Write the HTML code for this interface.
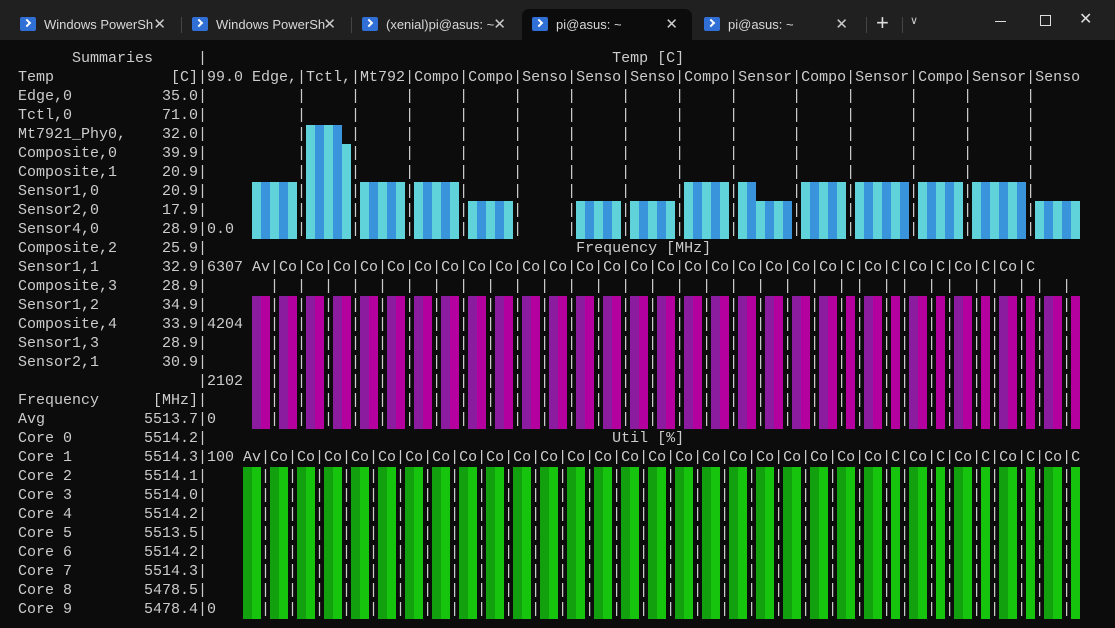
<!DOCTYPE html>
<html><head><meta charset="utf-8"><style>
body{margin:0;width:1115px;height:628px;background:#0c0c0c;overflow:hidden;position:relative;font-family:"Liberation Sans",sans-serif}
#tabs{position:absolute;left:0;top:0;width:1115px;height:40px;background:#202020}
.tab{position:absolute;top:9px;height:31px;color:#d8d8d8;font-size:13px;line-height:31px}
.tab .ic{position:absolute;left:10px;top:8px;width:16px;height:14px;background:#2f6fd6;border-radius:2px}
.tab .ic:after{content:"";position:absolute;left:4px;top:3px;width:4px;height:4px;border-right:2px solid #fff;border-bottom:2px solid #fff;transform:rotate(-45deg)}
.tab .t{position:absolute;left:34px;top:0;white-space:nowrap;width:112px;overflow:hidden}
.tab .x{position:absolute;right:14px;top:0;font-size:15px;color:#ccc}
.sep{position:absolute;top:17px;width:1px;height:16px;background:#444}
#term{position:absolute;left:18px;top:48.5px;margin:0;font-family:"Liberation Mono",monospace;font-size:15px;line-height:19px;color:#cccccc;white-space:pre;z-index:2}
.b{position:absolute;z-index:1}
</style></head><body>
<div id="tabs">
<div class="tab" style="left:10px;width:170px"><div class="ic"></div><span class="t">Windows PowerSh</span><span class="x">✕</span></div>
<div class="sep" style="left:181px"></div>
<div class="tab" style="left:182px;width:168px"><div class="ic"></div><span class="t">Windows PowerSh</span><span class="x">✕</span></div>
<div class="sep" style="left:351px"></div>
<div class="tab" style="left:352px;width:168px"><div class="ic"></div><span class="t">(xenial)pi@asus: ~</span><span class="x">✕</span></div>
<div class="tab" style="left:522px;width:170px;background:#0c0c0c;border-radius:7px 7px 0 0"><div class="ic"></div><span class="t">pi@asus: ~</span><span class="x">✕</span></div>
<div class="tab" style="left:694px;width:168px"><div class="ic"></div><span class="t">pi@asus: ~</span><span class="x">✕</span></div>
<div class="sep" style="left:866px"></div>
<div style="position:absolute;left:876px;top:10px;color:#ddd;font-size:22px">+</div>
<div class="sep" style="left:902px"></div>
<div style="position:absolute;left:910px;top:14px;color:#ccc;font-size:11px">∨</div>
<div style="position:absolute;left:995px;top:21px;width:11px;height:1px;background:#ddd"></div>
<div style="position:absolute;left:1040px;top:15px;width:9px;height:9px;border:1px solid #ddd"></div>
<div style="position:absolute;left:1079px;top:9px;color:#ddd;font-size:16px">✕</div>
</div>
<pre id="term">      Summaries     |                                             Temp [C]
Temp             [C]|99.0 Edge,|Tctl,|Mt792|Compo|Compo|Senso|Senso|Senso|Compo|Sensor|Compo|Sensor|Compo|Sensor|Senso
Edge,0          35.0|          |     |     |     |     |     |     |     |     |      |     |      |     |      |
Tctl,0          71.0|          |     |     |     |     |     |     |     |     |      |     |      |     |      |
Mt7921_Phy0,    32.0|          |     |     |     |     |     |     |     |     |      |     |      |     |      |
Composite,0     39.9|          |     |     |     |     |     |     |     |     |      |     |      |     |      |
Composite,1     20.9|          |     |     |     |     |     |     |     |     |      |     |      |     |      |
Sensor1,0       20.9|          |     |     |     |     |     |     |     |     |      |     |      |     |      |
Sensor2,0       17.9|          |     |     |     |     |     |     |     |     |      |     |      |     |      |
Sensor4,0       28.9|0.0       |     |     |     |     |     |     |     |     |      |     |      |     |      |
Composite,2     25.9|                                         Frequency [MHz]
Sensor1,1       32.9|6307 Av|Co|Co|Co|Co|Co|Co|Co|Co|Co|Co|Co|Co|Co|Co|Co|Co|Co|Co|Co|Co|Co|C|Co|C|Co|C|Co|C|Co|C
Composite,3     28.9|       |  |  |  |  |  |  |  |  |  |  |  |  |  |  |  |  |  |  |  |  |  | |  | |  | |  | |  | |  | 
Sensor1,2       34.9|       |  |  |  |  |  |  |  |  |  |  |  |  |  |  |  |  |  |  |  |  |  | |  | |  | |  | |  | |  | 
Composite,4     33.9|4204   |  |  |  |  |  |  |  |  |  |  |  |  |  |  |  |  |  |  |  |  |  | |  | |  | |  | |  | |  | 
Sensor1,3       28.9|       |  |  |  |  |  |  |  |  |  |  |  |  |  |  |  |  |  |  |  |  |  | |  | |  | |  | |  | |  | 
Sensor2,1       30.9|       |  |  |  |  |  |  |  |  |  |  |  |  |  |  |  |  |  |  |  |  |  | |  | |  | |  | |  | |  | 
                    |2102   |  |  |  |  |  |  |  |  |  |  |  |  |  |  |  |  |  |  |  |  |  | |  | |  | |  | |  | |  | 
Frequency      [MHz]|       |  |  |  |  |  |  |  |  |  |  |  |  |  |  |  |  |  |  |  |  |  | |  | |  | |  | |  | |  | 
Avg           5513.7|0      |  |  |  |  |  |  |  |  |  |  |  |  |  |  |  |  |  |  |  |  |  | |  | |  | |  | |  | |  | 
Core 0        5514.2|                                             Util [%]
Core 1        5514.3|100 Av|Co|Co|Co|Co|Co|Co|Co|Co|Co|Co|Co|Co|Co|Co|Co|Co|Co|Co|Co|Co|Co|Co|Co|C|Co|C|Co|C|Co|C|Co|C
Core 2        5514.1|      |  |  |  |  |  |  |  |  |  |  |  |  |  |  |  |  |  |  |  |  |  |  |  | |  | |  | |  | |  | 
Core 3        5514.0|      |  |  |  |  |  |  |  |  |  |  |  |  |  |  |  |  |  |  |  |  |  |  |  | |  | |  | |  | |  | 
Core 4        5514.2|      |  |  |  |  |  |  |  |  |  |  |  |  |  |  |  |  |  |  |  |  |  |  |  | |  | |  | |  | |  | 
Core 5        5513.5|      |  |  |  |  |  |  |  |  |  |  |  |  |  |  |  |  |  |  |  |  |  |  |  | |  | |  | |  | |  | 
Core 6        5514.2|      |  |  |  |  |  |  |  |  |  |  |  |  |  |  |  |  |  |  |  |  |  |  |  | |  | |  | |  | |  | 
Core 7        5514.3|      |  |  |  |  |  |  |  |  |  |  |  |  |  |  |  |  |  |  |  |  |  |  |  | |  | |  | |  | |  | 
Core 8        5478.5|      |  |  |  |  |  |  |  |  |  |  |  |  |  |  |  |  |  |  |  |  |  |  |  | |  | |  | |  | |  | 
Core 9        5478.4|0     |  |  |  |  |  |  |  |  |  |  |  |  |  |  |  |  |  |  |  |  |  |  |  | |  | |  | |  | |  | </pre>
<script>
function bar(col,top,bot,color){var d=document.createElement('div');d.className='b';d.style.left=(18+col*9)+'px';d.style.width='9px';d.style.top=top+'px';d.style.height=(bot-top)+'px';d.style.background=color;document.body.appendChild(d);}
var L='#5fd3d9',D='#3a94dc';
var tb=238.5;
function tg(cols,rows){cols.forEach(function(c,i){bar(c,tb-rows[i]*19,tb,i%2?D:L);});}
function rng(a,b){var r=[];for(var i=a;i<=b;i++)r.push(i);return r;}
function fill(n,v){var r=[];for(var i=0;i<n;i++)r.push(v);return r;}
tg(rng(26,30),fill(5,3));
tg(rng(32,36),[6,6,6,6,5]);
tg(rng(38,42),fill(5,3));
tg(rng(44,48),fill(5,3));
tg(rng(50,54),fill(5,2));
tg(rng(62,66),fill(5,2));
tg(rng(68,72),fill(5,2));
tg(rng(74,78),fill(5,3));
tg(rng(80,85),[3,3,2,2,2,2]);
tg(rng(87,91),fill(5,3));
tg(rng(93,98),fill(6,3));
tg(rng(100,104),fill(5,3));
tg(rng(106,111),fill(6,3));
tg(rng(113,117),fill(5,2));
function groups(start,widths,top,bot,c1,c2){var s=start;widths.forEach(function(w){if(w==3){bar(s+1,top,bot,c1);bar(s+2,top,bot,c2);}else{bar(s+1,top,bot,c2);}s+=w;});}
var fw=fill(21,3);for(var i=0;i<5;i++){fw.push(2);fw.push(3);}fw.push(2);
bar(26,295.5,428.5,'#8c1c9f');bar(27,295.5,428.5,'#b3009f');
groups(28,fw,295.5,428.5,'#8c1c9f','#b3009f');
var uw=fill(23,3);for(var i=0;i<4;i++){uw.push(2);uw.push(3);}uw.push(2);
bar(25,466.5,618.5,'#13a00f');bar(26,466.5,618.5,'#17c40d');
groups(27,uw,466.5,618.5,'#13a00f','#17c40d');
</script>
</body></html>
